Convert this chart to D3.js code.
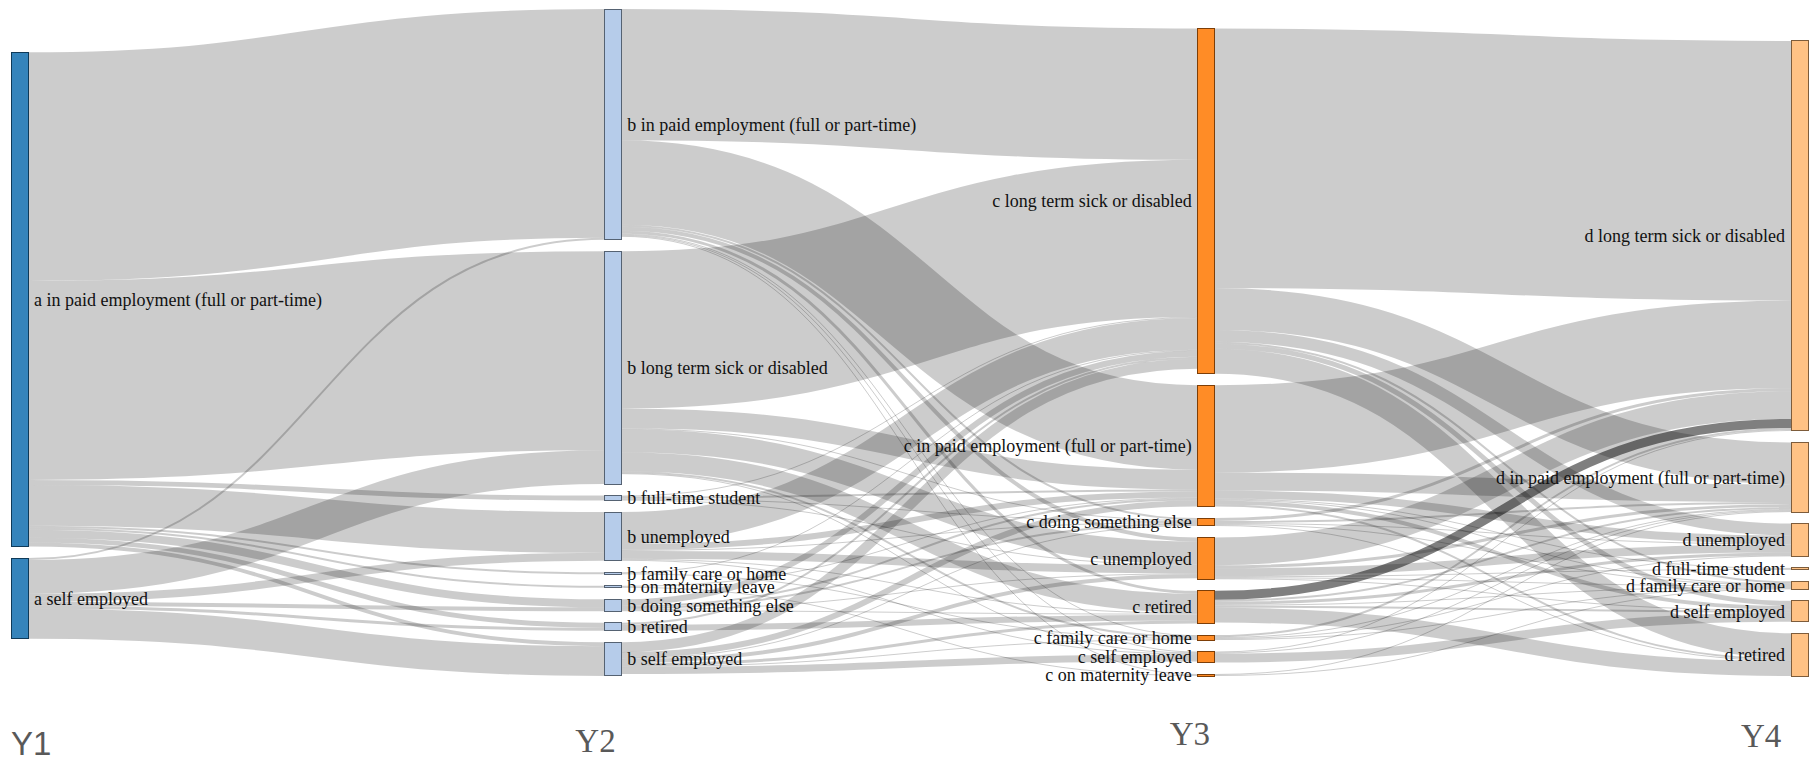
<!DOCTYPE html>
<html>
<head>
<meta charset="utf-8">
<script src="https://cdnjs.cloudflare.com/ajax/libs/d3/7.8.5/d3.min.js"></script>
<style>
body { margin: 0; background: #fff; }
.node rect { fill-opacity: .9; shape-rendering: crispEdges; }
.node text { font-family: "Liberation Serif", "Times New Roman", serif; font-size: 18px; fill: #111; }
.link { fill: none; stroke: #000; stroke-opacity: .2; }
.link.hover { stroke-opacity: .5; }
.year { fill: #595959; }
</style>
</head>
<body>
<div id="chart"></div>
<script>
// column titles
let years = ["Y1", "Y2", "Y3", "Y4"];

// states in each wave (top to bottom)
let statesY1 = [
	"a in paid employment (full or part-time)",
	"a self employed"
];
let statesY2 = [
	"b in paid employment (full or part-time)",
	"b long term sick or disabled",
	"b full-time student",
	"b unemployed",
	"b family care or home",
	"b on maternity leave",
	"b doing something else",
	"b retired",
	"b self employed"
];
let statesY3 = [
	"c long term sick or disabled",
	"c in paid employment (full or part-time)",
	"c doing something else",
	"c unemployed",
	"c retired",
	"c family care or home",
	"c self employed",
	"c on maternity leave"
];
let statesY4 = [
	"d long term sick or disabled",
	"d in paid employment (full or part-time)",
	"d unemployed",
	"d full-time student",
	"d family care or home",
	"d self employed",
	"d retired"
];

// transitions: rows = states of the earlier wave, columns = states of the next wave
let flowsY1Y2 = [
	[230, 200, 5, 41, 2, 2, 8, 5, 4],
	[2, 34, 0, 8, 0, 0, 4, 3, 30]
];
let flowsY2Y3 = [
	[132, 85, 2, 4, 3, 1, 1, 1],
	[158, 20, 1, 23, 19, 2, 1, 0],
	[1, 2, 1, 1, 0, 0, 0, 0],
	[32, 6, 1, 8, 1, 0, 1, 0],
	[1, 0, 0, 0, 0, 1, 0, 0],
	[0, 1, 0, 0, 0, 0, 0, 1],
	[6, 2, 2, 1, 1, 0, 0, 0],
	[2, 0, 0, 0, 6, 0, 0, 0],
	[10, 6, 1, 4, 3, 1, 7, 0]
];
let flowsY3Y4 = [
	[261, 42, 12, 0, 2, 5, 25],
	[88, 18, 8, 1, 1, 4, 2],
	[3, 2, 1, 0, 1, 0, 1],
	[28, 3, 8, 1, 1, 1, 0],
	[9, 2, 3, 0, 1, 2, 15],
	[2, 1, 1, 0, 1, 0, 0],
	[1, 1, 0, 0, 0, 9, 0],
	[0, 1, 0, 0, 1, 0, 0]
];

// link that is shown as hovered
let hovered = ["c retired", "d long term sick or disabled"];

let margin = {top: 9, right: 4, bottom: 86, left: 11};
let width = 1812 - margin.left - margin.right,
	height = 762 - margin.top - margin.bottom;
let nodeWidth = 17, nodePadding = 11.5, iterations = 80;

let color = d3.scaleOrdinal()
	.domain(["a", "b", "c", "d"])
	.range(["#1f77b4", "#aec7e8", "#ff7f0e", "#ffbb78"]);

// build graph
let columns = [statesY1, statesY2, statesY3, statesY4];
let flows = [flowsY1Y2, flowsY2Y3, flowsY3Y4];
let nodes = [], links = [];
let byCol = columns.map((col, depth) => col.map(name => {
	let n = {name: name, depth: depth, sourceLinks: [], targetLinks: []};
	nodes.push(n);
	return n;
}));
flows.forEach((m, k) => m.forEach((row, i) => row.forEach((v, j) => {
	if (!v) return;
	let l = {source: byCol[k][i], target: byCol[k + 1][j], value: v};
	l.source.sourceLinks.push(l);
	l.target.targetLinks.push(l);
	links.push(l);
})));
nodes.forEach(n => {
	n.value = Math.max(d3.sum(n.sourceLinks, l => l.value), d3.sum(n.targetLinks, l => l.value));
});

// horizontal position of each wave
let x = d3.scaleLinear()
	.domain([0, columns.length - 1])
	.range([0, width - nodeWidth]);
nodes.forEach(n => n.x = x(n.depth));

// value -> pixels, fixed by the tightest column
let tight = d3.least(byCol, col => (height - (col.length - 1) * nodePadding) / d3.sum(col, n => n.value));
let size = d3.scaleLinear()
	.domain([0, d3.sum(tight, n => n.value)])
	.range([0, height - (tight.length - 1) * nodePadding]);
nodes.forEach(n => n.dy = size(n.value));
links.forEach(l => l.dy = size(l.value));

// vertical layout: relax toward linked nodes, keep the given order
let center = n => n.y + n.dy / 2;
function resolveCollisions() {
	byCol.forEach(col => {
		let y0 = 0;
		col.forEach(n => {
			if (n.y < y0) n.y = y0;
			y0 = n.y + n.dy + nodePadding;
		});
		if (y0 - nodePadding > height) {
			y0 = height;
			for (let i = col.length - 1; i >= 0; i--) {
				let n = col[i];
				if (n.y + n.dy > y0) n.y = y0 - n.dy;
				y0 = n.y - nodePadding;
			}
		}
	});
}
byCol.forEach(col => col.forEach((n, i) => n.y = i));
resolveCollisions();
let alpha = 1;
for (let it = 0; it < iterations; it++) {
	alpha *= .99;
	byCol.slice().reverse().forEach(col => col.forEach(n => {
		if (!n.sourceLinks.length) return;
		let yc = d3.sum(n.sourceLinks, l => center(l.target) * l.value) / d3.sum(n.sourceLinks, l => l.value);
		n.y += (yc - center(n)) * alpha;
	}));
	resolveCollisions();
	byCol.forEach(col => col.forEach(n => {
		if (!n.targetLinks.length) return;
		let yc = d3.sum(n.targetLinks, l => center(l.source) * l.value) / d3.sum(n.targetLinks, l => l.value);
		n.y += (yc - center(n)) * alpha;
	}));
	resolveCollisions();
}

// stack links at each end
nodes.forEach(n => {
	n.sourceLinks.sort((a, b) => a.target.y - b.target.y);
	n.targetLinks.sort((a, b) => a.source.y - b.source.y);
	let sy = 0, ty = 0;
	n.sourceLinks.forEach(l => { l.sy = sy; sy += l.dy; });
	n.targetLinks.forEach(l => { l.ty = ty; ty += l.dy; });
});

let svg = d3.select("#chart").append("svg")
	.attr("width", width + margin.left + margin.right)
	.attr("height", height + margin.top + margin.bottom);
let g = svg.append("g")
	.attr("transform", "translate(" + margin.left + "," + margin.top + ")");

let linkPath = d3.linkHorizontal()
	.source(d => [d.source.x + nodeWidth, d.source.y + d.sy + d.dy / 2])
	.target(d => [d.target.x, d.target.y + d.ty + d.dy / 2]);

g.append("g").selectAll("path")
	.data(links)
	.enter().append("path")
	.attr("class", d => (d.source.name === hovered[0] && d.target.name === hovered[1]) ? "link hover" : "link")
	.attr("d", linkPath)
	.style("stroke-width", d => Math.max(1, d.dy));

let node = g.append("g").selectAll(".node")
	.data(nodes)
	.enter().append("g")
	.attr("class", "node")
	.attr("transform", d => "translate(" + d.x + "," + d.y + ")");

node.append("rect")
	.attr("height", d => d.dy)
	.attr("width", nodeWidth)
	.style("fill", d => d.color = color(d.name.replace(/ .*/, "")))
	.style("stroke", d => d3.rgb(d.color).darker(2));

node.append("text")
	.attr("x", d => d.x < width / 2 ? nodeWidth + 6 : -6)
	.attr("y", d => d.dy / 2)
	.attr("dy", ".35em")
	.attr("text-anchor", d => d.x < width / 2 ? "start" : "end")
	.text(d => d.name);

// wave titles under the columns
let yearStyle = [
	{dx: 0, y: 755, font: "'Liberation Sans', Arial, sans-serif"},
	{dx: -29, y: 752, font: "'Liberation Serif', 'Times New Roman', serif"},
	{dx: -28, y: 745, font: "'Liberation Serif', 'Times New Roman', serif"},
	{dx: -50, y: 747, font: "'Liberation Serif', 'Times New Roman', serif"}
];
svg.append("g").selectAll("text")
	.data(years)
	.enter().append("text")
	.attr("class", "year")
	.attr("x", (d, i) => margin.left + x(i) + yearStyle[i].dx)
	.attr("y", (d, i) => yearStyle[i].y)
	.style("font-family", (d, i) => yearStyle[i].font)
	.style("font-size", "33px")
	.text(d => d);
</script>
</body>
</html>
